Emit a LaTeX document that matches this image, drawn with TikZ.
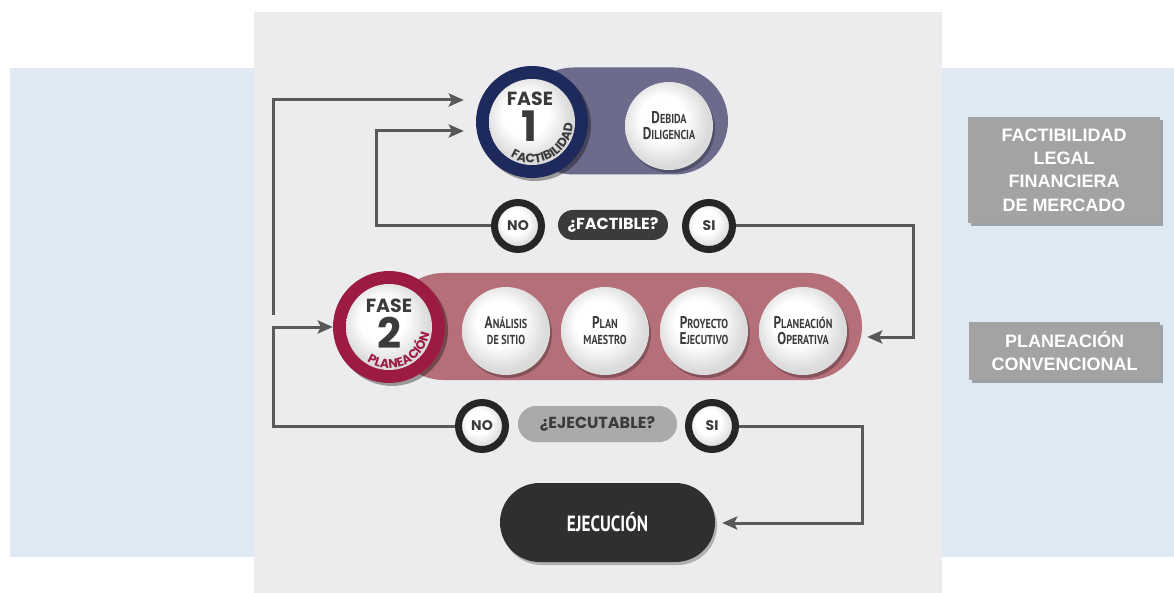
\documentclass[tikz,border=0pt]{standalone}
\usepackage{fontspec}
\usetikzlibrary{arrows.meta,calc,shadows,decorations.text,shapes.misc}
\newfontfamily\pop{Poppins}
\newfontfamily\cond[FakeStretch=0.78]{PT Sans}
\newfontfamily\arial{Liberation Sans}
\definecolor{bandblue}{HTML}{DFE9F3}
\definecolor{panel}{HTML}{ECECEE}
\definecolor{navy}{HTML}{1E2A5C}
\definecolor{slate}{HTML}{6C6B8B}
\definecolor{crimson}{HTML}{9C1B43}
\definecolor{rose}{HTML}{B46F79}
\definecolor{linegray}{HTML}{58595B}
\definecolor{darkpill}{HTML}{3A3B3D}
\definecolor{lightpill}{HTML}{A9AAAC}
\definecolor{ink}{HTML}{3B3B3D}
\definecolor{boxgray}{HTML}{A3A3A3}
\definecolor{ejec}{HTML}{2E2F31}
\definecolor{ringblack}{HTML}{262628}
\colorlet{ballrim}{black!14}
\pgfdeclareradialshading{softball}{\pgfpoint{-5bp}{6bp}}{color(0bp)=(white); color(13bp)=(white); color(25bp)=(ballrim); color(50bp)=(ballrim)}
\newcommand\SC[2]{{\fontsize{17}{15}\selectfont #1}#2}
\begin{document}
\begin{tikzpicture}[x=1pt,y=-1pt,
  arr/.style={draw=linegray, line width=3pt, -{Stealth[length=15pt,width=13pt,inset=3pt]}},
  ring/.style={circle, minimum size=112pt, inner sep=0pt,
    drop shadow={shadow xshift=3pt,shadow yshift=-3pt,opacity=.35,fill=black}},
  ball/.style={circle, inner sep=0pt, shade, shading=softball},
  disc/.style={ball, minimum size=88pt, text=ink, align=center,
    font=\cond\bfseries\fontsize{13}{16}\selectfont,
    drop shadow={shadow xshift=2pt,shadow yshift=-3pt,opacity=.25,fill=black}},
  pillbg/.style={rounded rectangle, inner sep=0pt, minimum height=107pt},
  yn/.style={circle, minimum size=47pt, inner sep=0pt, draw=ringblack, line width=7pt,
    shade, shading=softball, text=ink, font=\pop\bfseries\fontsize{14}{14}\selectfont,
    drop shadow={shadow xshift=2pt,shadow yshift=-2pt,opacity=.3,fill=black}},
  qpill/.style={rounded rectangle, inner sep=0pt, font=\pop\bfseries\fontsize{16}{16}\selectfont},
  fase/.style={font=\pop\bfseries\fontsize{19}{19}\selectfont, text=ink, inner sep=0pt},
  num/.style={font=\pop\bfseries\fontsize{42}{42}\selectfont, text=ink, inner sep=0pt},
  rbox/.style={fill=boxgray, text=white, align=center, inner sep=0pt,
    font=\arial\bfseries\fontsize{18}{23.3}\selectfont,
    drop shadow={shadow xshift=3pt,shadow yshift=-3pt,opacity=.3,fill=black}}
]
\useasboundingbox (0,0) rectangle (1174,593);
\fill[white] (0,0) rectangle (1174,593);
\fill[bandblue] (10,68) rectangle (1174,557);
\fill[panel] (254,12) rectangle (942,593);

% background pills
\node[pillbg, fill=slate, minimum width=208pt] (pill1) at (624,121) {};
\node[pillbg, fill=rose, minimum width=472pt] (pill2) at (626,326.5) {};

% phase 1
\node[ring, fill=navy] (fase1) at (532,122) {};
\node[ball, minimum size=86pt] (core1) at (fase1) {};
\node[fase] (f1t) at ($(fase1)+(-2,-23)$) {FASE};
\node[num] (f1n) at ($(fase1)+(-3,4)$) {1};
\path[decorate, decoration={text along path, text align=center,
  text={|\color{ink}\pop\bfseries\fontsize{12.5}{12.5}\selectfont|FACTIBILIDAD}}]
  ($(fase1)+(134:41)$) arc[start angle=134, end angle=-10, radius=41];
\node[disc] (dd) at (669,126) {\SC{D}{EBIDA}\\\SC{D}{ILIGENCIA}};

% phase 2
\node[ring, fill=crimson] (fase2) at (389,327) {};
\node[ball, minimum size=86pt] (core2) at (fase2) {};
\node[fase] (f2t) at ($(fase2)+(0,-21)$) {FASE};
\node[num] (f2n) at ($(fase2)+(0,6)$) {2};
\path[decorate, decoration={text along path, text align=center,
  text={|\color{crimson}\pop\bfseries\fontsize{12.5}{12.5}\selectfont|PLANEACIÓN}}]
  ($(fase2)+(138:41)$) arc[start angle=138, end angle=-6, radius=41];
\node[disc] (as) at (506,331) {\SC{A}{NÁLISIS}\\DE SITIO};
\node[disc] (pm) at (605,331) {\SC{P}{LAN}\\MAESTRO};
\node[disc] (pe) at (704,331) {\SC{P}{ROYECTO}\\\SC{E}{JECUTIVO}};
\node[disc] (po) at (803,331) {\SC{P}{LANEACIÓN}\\\SC{O}{PERATIVA}};

% decisions
\node[yn] (no1) at (518,226) {NO};
\node[qpill, fill=darkpill, text=white, minimum width=110pt, minimum height=30pt] (fact) at (613,225) {¿FACTIBLE?};
\node[yn] (si1) at (709,226) {SI};
\node[yn] (no2) at (482,426) {NO};
\node[qpill, fill=lightpill, text=ink, minimum width=159pt, minimum height=36pt] (ejecq) at (597.5,424) {¿EJECUTABLE?};
\node[yn] (si2) at (712,426) {SI};

% execution
\node[rounded rectangle, fill=ejec, minimum width=215pt, minimum height=79pt, inner sep=0pt,
  text=white, font=\cond\bfseries\fontsize{22}{22}\selectfont,
  drop shadow={shadow xshift=2pt,shadow yshift=-3pt,opacity=.25,fill=black}] (ejec) at (607.5,522.5) {EJECUCIÓN};

% right boxes
\node[rbox, minimum width=192pt, minimum height=106pt] (b1) at (1064,170) {FACTIBILIDAD\\LEGAL\\FINANCIERA\\DE MERCADO};
\node[rbox, minimum width=191pt, minimum height=58pt] (b2) at (1064.5,351) {PLANEACIÓN\\CONVENCIONAL};

% connectors
\coordinate (c1) at (273,315);
\coordinate (c2) at (376,131);
\coordinate (c3) at (913,337);
\coordinate (c4) at (273,327);
\coordinate (c5) at (862,523);
\draw[arr] (c1) |- ($(fase1.west)+(-12,-22)$);
\draw[arr] (no1.west) -| (c2) -- ($(fase1.west)+(-12,9)$);
\draw[arr] (si1.east) -| (c3) -- ($(pill2.east)+(5,10.5)$);
\draw[arr] (no2.west) -| (c4) -- (fase2.west);
\draw[arr] (si2.east) -| (c5) -- ($(ejec.east)+(7,0.5)$);
\end{tikzpicture}
\end{document}
